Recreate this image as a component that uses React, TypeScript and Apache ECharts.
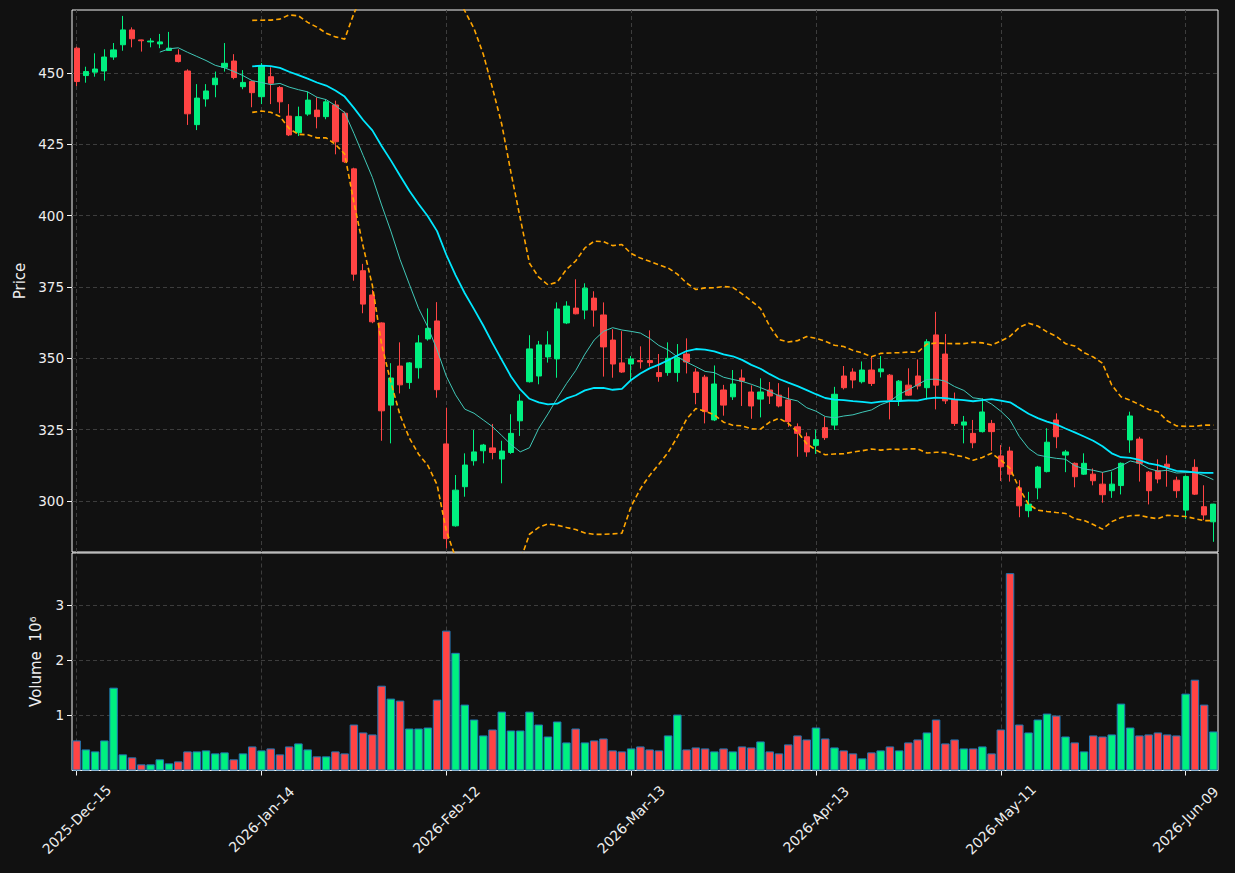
import React, { useEffect, useRef } from "react";
import * as echarts from "echarts";

const MONTHS = ["Jan", "Feb", "Mar", "Apr", "May", "Jun", "Jul", "Aug", "Sep", "Oct", "Nov", "Dec"];
const HOLIDAYS = ["2025-12-25", "2026-01-01", "2026-01-19", "2026-02-16", "2026-04-03", "2026-05-25"];
const START_DATE = "2025-12-15";
const N_DAYS = 124;

const opens = [
  458.7, 449.1, 450.3, 450.7, 455.6, 459.9, 465.1, 461.6, 460.9, 460.2,
  457.9, 456.3, 450.7, 431.9, 440.9, 445.9, 452, 454.2, 445.2, 447,
  441.7, 448.7, 444.9, 434.9, 429.1, 435.6, 437, 434.7, 438.8, 435.9,
  416.4, 380.7, 372.2, 362.4, 333.6, 347.3, 341.5, 346.7, 356.8, 363.1,
  320, 291.3, 305, 314.1, 317.6, 318.6, 314.7, 317, 328.1, 341.8,
  343.8, 350.5, 349.8, 362.4, 367.6, 366.9, 371.1, 365.2, 356.4, 348.4,
  348, 349.2, 349.2, 345, 345, 345, 351.5, 345.2, 343.4, 328.4,
  338.9, 336.5, 343.1, 338.2, 335.7, 338.9, 337.1, 335.4, 326, 322.5,
  319.5, 325.7, 326.6, 343.8, 345.2, 341.8, 345.9, 345.3, 344.1, 335.4,
  340.6, 343.8, 339.7, 358.2, 351.5, 335.6, 326.6, 323.7, 324.3, 327.2,
  315.8, 317.5, 304.6, 296.6, 304.6, 310.3, 328.4, 316.1, 313.2, 309.4,
  309.4, 305.9, 303.6, 305.4, 321.4, 321.7, 310.1, 310.6, 312.9, 307.3,
  296.8, 311.8, 298, 292.7,
];
const highs = [
  459.2, 452.2, 456.9, 458.3, 460.5, 470, 466, 461.7, 462.2, 463.7,
  464.4, 458.3, 451.3, 446.1, 446.1, 450.5, 460.5, 456.6, 451, 447.2,
  453.5, 452, 445.4, 439.1, 438.2, 443.5, 441.5, 440.8, 440.3, 436.5,
  416.8, 383.1, 374, 362.6, 348.3, 355.6, 348.7, 358.1, 367.5, 369.7,
  332.7, 309.1, 316.7, 324.9, 320, 327, 321.1, 330.4, 337.4, 358.1,
  356.1, 359.5, 369.6, 370, 377.7, 376.3, 373.5, 369.6, 360.2, 359.5,
  350.8, 354.2, 359.8, 351.5, 355.6, 355, 357, 346.5, 344.2, 347.5,
  340.7, 345.9, 346.1, 340.5, 343, 341.7, 341.3, 339.8, 327.2, 324,
  325, 329.5, 340, 347.3, 346.5, 348.9, 350.8, 350.8, 344.5, 342.4,
  346.5, 349.6, 356.7, 366.3, 358.5, 338, 329.8, 328.4, 336, 328.4,
  319.6, 319, 307.3, 303.2, 312.3, 325.5, 330.7, 317.9, 313.5, 316.7,
  311.4, 310.1, 310.3, 313.5, 331.3, 322.5, 310.5, 314.6, 316, 308.5,
  309, 314.6, 305.5, 299,
];
const lows = [
  445.4, 446.6, 448.7, 447.3, 454.6, 457.8, 459, 457.5, 459, 458.7,
  457.8, 453.7, 431.8, 430, 438.2, 441.5, 450.5, 447.8, 444.3, 438,
  439.1, 439.1, 435.9, 427.9, 427.9, 435, 430.6, 433.8, 421.5, 418.5,
  377.2, 365.8, 362.3, 321.1, 320.2, 337.7, 339.3, 342.9, 356.2, 336.2,
  283.4, 291, 301.5, 312.4, 313.2, 314.6, 306.2, 316.5, 322.8, 341.5,
  340.9, 348.5, 343.2, 362, 365.4, 363.7, 361.1, 343.6, 343.2, 344.9,
  342.4, 346.4, 347.1, 341.8, 343.9, 341.8, 344.7, 333.9, 327.2, 328,
  329.9, 335.4, 333.3, 328.8, 329.3, 334, 332.8, 326, 315.5, 315.5,
  316.5, 321.4, 324.9, 339.1, 339.5, 341.2, 340.3, 343.3, 328.6, 333.3,
  336.8, 339.1, 335.6, 332.1, 334, 326.3, 320.2, 318.5, 324, 317.6,
  307, 306.8, 294.3, 294.3, 300.6, 310, 318.5, 310.1, 304.8, 309.1,
  305.5, 299.4, 301.1, 302.3, 316.9, 306.8, 298.8, 306.2, 305, 301.1,
  293.6, 302.1, 293.3, 285.7,
];
const closes = [
  447, 450.5, 451.4, 455.6, 458.1, 465.1, 462, 461.3, 461.2, 460.9,
  458.7, 454, 435.7, 441.2, 443.7, 448.2, 453.4, 448.4, 446.7, 443.1,
  452.5, 446.4, 439.9, 428.3, 434.7, 440.5, 434.7, 439.9, 425.9, 418.9,
  379.5, 369, 362.8, 331.6, 343.1, 340.7, 348.4, 355.4, 360.5, 339,
  286.8, 303.8, 312.6, 317.2, 319.6, 317, 317.5, 323.7, 335, 353.3,
  354.7, 354.7, 367.3, 368.3, 365.6, 374.6, 366.9, 354, 348, 345.2,
  349.8, 348.8, 348.5, 343.6, 350, 350.2, 348.7, 338, 331.3, 341,
  333.6, 341, 342, 333.3, 338.2, 336.8, 333.3, 327.8, 323.7, 317.2,
  321.5, 322.2, 337.4, 339.7, 342.4, 345.9, 341.2, 346.3, 335.4, 342,
  337.1, 340.3, 355.8, 340.6, 335.1, 327.2, 327.7, 320.4, 331.2, 324.3,
  312, 309.4, 298.3, 298.9, 311.9, 320.6, 322.5, 317.2, 308.5, 313.2,
  307.1, 302.2, 305.9, 313.2, 329.8, 313.2, 303.6, 307.7, 311.8, 303.6,
  308.6, 302.4, 295.1, 298.9,
];
// volume in millions
const volumes = [
  0.546, 0.383, 0.347, 0.546, 1.504, 0.293, 0.239, 0.112, 0.112, 0.203,
  0.13, 0.166, 0.347, 0.347, 0.365, 0.311, 0.329, 0.203, 0.311, 0.437,
  0.365, 0.401, 0.293, 0.437, 0.492, 0.383, 0.257, 0.257, 0.347, 0.311,
  0.835, 0.691, 0.655, 1.54, 1.306, 1.27, 0.763, 0.763, 0.781, 1.288,
  2.54, 2.137, 1.197, 0.926, 0.637, 0.745, 1.07, 0.727, 0.727, 1.07,
  0.835, 0.618, 0.89, 0.51, 0.763, 0.51, 0.546, 0.582, 0.365, 0.347,
  0.401, 0.437, 0.383, 0.365, 0.637, 1.016, 0.383, 0.419, 0.401, 0.347,
  0.401, 0.347, 0.437, 0.419, 0.528, 0.347, 0.311, 0.474, 0.637, 0.564,
  0.781, 0.582, 0.419, 0.365, 0.311, 0.221, 0.329, 0.365, 0.437, 0.365,
  0.51, 0.564, 0.691, 0.926, 0.492, 0.564, 0.401, 0.401, 0.437, 0.311,
  0.745, 3.584, 0.835, 0.691, 0.926, 1.034, 0.998, 0.618, 0.51, 0.347,
  0.637, 0.618, 0.655, 1.215, 0.781, 0.637, 0.655, 0.691, 0.655, 0.637,
  1.396, 1.649, 1.197, 0.709,
];

const PRICE_TICKS = [300, 325, 350, 375, 400, 425, 450];
const VOLUME_TICKS = [1, 2, 3];
const X_TICK_STEP = 20;

function tradingDays(start: string, n: number): string[] {
  const out: string[] = [];
  const d = new Date(start + "T00:00:00Z");
  while (out.length < n) {
    const dow = d.getUTCDay();
    const iso = d.toISOString().slice(0, 10);
    if (dow !== 0 && dow !== 6 && !HOLIDAYS.includes(iso)) {
      out.push(
        `${d.getUTCFullYear()}-${MONTHS[d.getUTCMonth()]}-${String(d.getUTCDate()).padStart(2, "0")}`
      );
    }
    d.setUTCDate(d.getUTCDate() + 1);
  }
  return out;
}

const dates = tradingDays(START_DATE, N_DAYS);

function sma(values: number[], w: number): (number | null)[] {
  return values.map((_, i) => {
    if (i < w - 1) return null;
    let s = 0;
    for (let k = i - w + 1; k <= i; k++) s += values[k];
    return s / w;
  });
}
function rollingStd(values: number[], w: number): (number | null)[] {
  return values.map((_, i) => {
    if (i < w - 1) return null;
    let s = 0;
    for (let k = i - w + 1; k <= i; k++) s += values[k];
    const m = s / w;
    let q = 0;
    for (let k = i - w + 1; k <= i; k++) q += (values[k] - m) ** 2;
    return Math.sqrt(q / (w - 1));
  });
}

const UP = "#00f080";
const DOWN = "#ff4444";
const FG = "#eeeeee";
const SPINE = "#f4f4f4";
const GRID_LINE = "#3d3d3d";

export default function App() {
  const ref = useRef<HTMLDivElement>(null);
  useEffect(() => {
    if (!ref.current) return;
    const chart = echarts.init(ref.current, null, { renderer: "svg" });
    const ma10 = sma(closes, 10);
    const ma20 = sma(closes, 20);
    const sd20 = rollingStd(closes, 20);
    const upper = ma20.map((m, i) => (m == null ? null : m + 2 * (sd20[i] as number)));
    const lower = ma20.map((m, i) => (m == null ? null : m - 2 * (sd20[i] as number)));
    const xTickIdx = dates.map((_, i) => i).filter((i) => i % X_TICK_STEP === 0);
    const isTick = (i: number) => i % X_TICK_STEP === 0;
    const gridMarks = (yTicks: number[]) => ({
      silent: true,
      z: 1,
      symbol: ["none", "none"],
      animation: false,
      label: { show: false },
      emphasis: { disabled: true },
      lineStyle: { color: GRID_LINE, type: [4, 3], width: 1 },
      data: [
        ...yTicks.map((v) => ({ yAxis: v })),
        ...xTickIdx.map((i) => ({ xAxis: dates[i] })),
      ],
    });
    const lineCommon = {
      type: "line",
      xAxisIndex: 0,
      yAxisIndex: 0,
      showSymbol: false,
      symbol: "none",
      silent: true,
      connectNulls: false,
      z: 4,
    };

    chart.setOption({
      animation: false,
      backgroundColor: "#111111",
      textStyle: { fontFamily: "DejaVu Sans" },
      grid: [
        { left: 72, right: 17, top: 10, height: 542, show: true, borderColor: SPINE, borderWidth: 1, outerBoundsMode: "none" },
        { left: 72, right: 17, top: 553, height: 217.5, show: true, borderColor: SPINE, borderWidth: 1, outerBoundsMode: "none" },
      ],
      xAxis: [
        {
          type: "category", gridIndex: 0, data: dates, boundaryGap: true,
          axisLine: { show: false }, axisTick: { show: false }, axisLabel: { show: false }, splitLine: { show: false },
        },
        {
          type: "category", gridIndex: 1, data: dates, boundaryGap: true,
          axisLine: { show: false },
          axisTick: { show: true, interval: (i: number) => isTick(i), alignWithLabel: true, length: 5, lineStyle: { color: SPINE } },
          axisLabel: {
            interval: (i: number) => isTick(i), rotate: 45, color: FG, fontSize: 14,
            align: "center", verticalAlign: "middle", margin: 49,
          },
          splitLine: { show: false },
        },
      ],
      yAxis: [
        {
          type: "value", gridIndex: 0, min: 282.12, max: 472.08,
          axisLine: { show: false },
          axisTick: { show: true, customValues: PRICE_TICKS, length: 5, lineStyle: { color: SPINE } },
          axisLabel: { customValues: PRICE_TICKS, color: FG, fontSize: 13.5, margin: 8 },
          splitLine: { show: false },
          name: "Price", nameLocation: "middle", nameGap: 45, nameRotate: 90,
          nameTextStyle: { color: FG, fontSize: 15 },
        },
        {
          type: "value", gridIndex: 1, min: 0, max: 3.95,
          axisLine: { show: false },
          axisTick: { show: true, customValues: VOLUME_TICKS, length: 5, lineStyle: { color: SPINE } },
          axisLabel: { customValues: VOLUME_TICKS, color: FG, fontSize: 13.5, margin: 8 },
          splitLine: { show: false },
          name: "Volume  10\u2076", nameLocation: "middle", nameGap: 29, nameRotate: 90,
          nameTextStyle: { color: FG, fontSize: 15 },
        },
      ],
      series: [
        {
          type: "line", xAxisIndex: 0, yAxisIndex: 0, data: dates.map(() => null),
          showSymbol: false, silent: true, z: 1, lineStyle: { opacity: 0 },
          markLine: gridMarks(PRICE_TICKS),
        },
        {
          type: "line", xAxisIndex: 1, yAxisIndex: 1, data: dates.map(() => null),
          showSymbol: false, silent: true, z: 1, lineStyle: { opacity: 0 },
          markLine: gridMarks(VOLUME_TICKS),
        },
        {
          type: "candlestick", xAxisIndex: 0, yAxisIndex: 0, z: 3,
          barWidth: "62%",
          data: dates.map((_, i) => [opens[i], closes[i], lows[i], highs[i]]),
          itemStyle: { color: UP, color0: DOWN, borderColor: UP, borderColor0: DOWN, borderWidth: 1 },
        },
        { ...lineCommon, name: "MA10", data: ma10, lineStyle: { color: "#40c8b8", width: 1 } },
        { ...lineCommon, name: "MA20", data: ma20, lineStyle: { color: "#00e8ff", width: 1.8 } },
        { ...lineCommon, name: "Upper", data: upper, lineStyle: { color: "#ffa500", width: 1.6, type: [5, 3] } },
        { ...lineCommon, name: "Lower", data: lower, lineStyle: { color: "#ffa500", width: 1.6, type: [5, 3] } },
        {
          type: "bar", xAxisIndex: 1, yAxisIndex: 1, z: 3, barWidth: "92%",
          data: volumes.map((v, i) => ({
            value: v,
            itemStyle: { color: closes[i] >= opens[i] ? UP : DOWN },
          })),
          itemStyle: { borderColor: "#1f77b4", borderWidth: 1 },
        },
      ],
    });
    return () => chart.dispose();
  }, []);
  return (
    <div
      ref={ref}
      style={{ position: "fixed", left: 0, top: 0, width: 1235, height: 873 }}
    />
  );
}
